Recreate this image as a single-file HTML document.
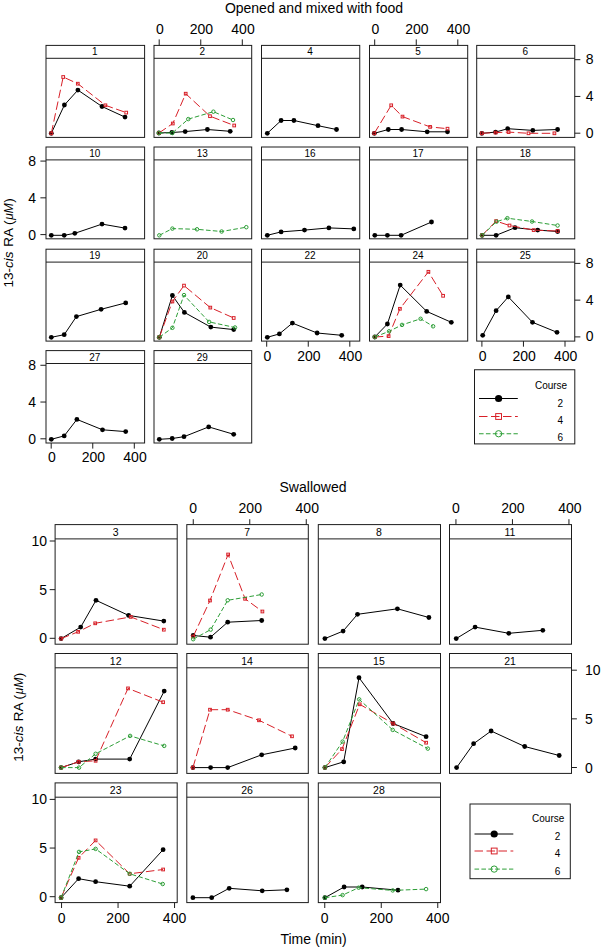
<!DOCTYPE html>
<html><head><meta charset="utf-8"><style>
html,body{margin:0;padding:0;background:#fff;}
svg{display:block;}
text{font-family:"Liberation Sans", sans-serif;fill:#000;}
</style></head><body>
<svg width="601" height="950" viewBox="0 0 601 950">
<rect width="601" height="950" fill="#fff"/>
<rect x="46" y="45.4" width="98.6" height="92" fill="none" stroke="#1c1c1c" stroke-width="1"/>
<line x1="46" y1="58.3" x2="144.6" y2="58.3" stroke="#1c1c1c" stroke-width="1" />
<text x="94.8" y="55.45" font-size="10" text-anchor="middle" >1</text>
<path d="M51.3 133.3 L64.4 105 L77.9 90.1 L102 106.5 L125 117.1" fill="none" stroke="#000" stroke-width="1" />
<circle cx="51.3" cy="133.3" r="2.4" fill="#000"/>
<circle cx="64.4" cy="105" r="2.4" fill="#000"/>
<circle cx="77.9" cy="90.1" r="2.4" fill="#000"/>
<circle cx="102" cy="106.5" r="2.4" fill="#000"/>
<circle cx="125" cy="117.1" r="2.4" fill="#000"/>
<path d="M51.3 133.3 L63.2 77 L77.8 83.7 L105.4 105.3 L126.2 112.6" fill="none" stroke="#d82028" stroke-width="1" stroke-dasharray="8.5 3.5"/>
<rect x="49.95" y="131.95" width="2.7" height="2.7" fill="none" stroke="#d82028" stroke-width="1"/>
<rect x="61.85" y="75.65" width="2.7" height="2.7" fill="none" stroke="#d82028" stroke-width="1"/>
<rect x="76.45" y="82.35" width="2.7" height="2.7" fill="none" stroke="#d82028" stroke-width="1"/>
<rect x="104.05" y="103.95" width="2.7" height="2.7" fill="none" stroke="#d82028" stroke-width="1"/>
<rect x="124.85" y="111.25" width="2.7" height="2.7" fill="none" stroke="#d82028" stroke-width="1"/>
<rect x="154" y="45.4" width="97.7" height="92" fill="none" stroke="#1c1c1c" stroke-width="1"/>
<line x1="154" y1="58.3" x2="251.7" y2="58.3" stroke="#1c1c1c" stroke-width="1" />
<text x="202.35" y="55.45" font-size="10" text-anchor="middle" >2</text>
<path d="M158.9 133 L171.9 132.5 L185.2 131.6 L207.4 129.5 L230.2 131.3" fill="none" stroke="#000" stroke-width="1" />
<circle cx="158.9" cy="133" r="2.4" fill="#000"/>
<circle cx="171.9" cy="132.5" r="2.4" fill="#000"/>
<circle cx="185.2" cy="131.6" r="2.4" fill="#000"/>
<circle cx="207.4" cy="129.5" r="2.4" fill="#000"/>
<circle cx="230.2" cy="131.3" r="2.4" fill="#000"/>
<path d="M158.9 133 L172.8 123.5 L185.7 93.7 L210 116.2 L234.2 125.5" fill="none" stroke="#d82028" stroke-width="1" stroke-dasharray="8.5 3.5"/>
<rect x="157.55" y="131.65" width="2.7" height="2.7" fill="none" stroke="#d82028" stroke-width="1"/>
<rect x="171.45" y="122.15" width="2.7" height="2.7" fill="none" stroke="#d82028" stroke-width="1"/>
<rect x="184.35" y="92.35" width="2.7" height="2.7" fill="none" stroke="#d82028" stroke-width="1"/>
<rect x="208.65" y="114.85" width="2.7" height="2.7" fill="none" stroke="#d82028" stroke-width="1"/>
<rect x="232.85" y="124.15" width="2.7" height="2.7" fill="none" stroke="#d82028" stroke-width="1"/>
<path d="M158.9 133 L172.4 133 L188.3 119.1 L213.4 111.7 L233 120" fill="none" stroke="#2c9e36" stroke-width="1" stroke-dasharray="4.6 2.3"/>
<circle cx="158.9" cy="133" r="1.75" fill="none" stroke="#2c9e36" stroke-width="1"/>
<circle cx="172.4" cy="133" r="1.75" fill="none" stroke="#2c9e36" stroke-width="1"/>
<circle cx="188.3" cy="119.1" r="1.75" fill="none" stroke="#2c9e36" stroke-width="1"/>
<circle cx="213.4" cy="111.7" r="1.75" fill="none" stroke="#2c9e36" stroke-width="1"/>
<circle cx="233" cy="120" r="1.75" fill="none" stroke="#2c9e36" stroke-width="1"/>
<rect x="261.5" y="45.4" width="98.25" height="92" fill="none" stroke="#1c1c1c" stroke-width="1"/>
<line x1="261.5" y1="58.3" x2="359.75" y2="58.3" stroke="#1c1c1c" stroke-width="1" />
<text x="310.12" y="55.45" font-size="10" text-anchor="middle" >4</text>
<path d="M267.3 133.3 L281.1 120.5 L293.9 120.5 L318 125.7 L336.5 129.5" fill="none" stroke="#000" stroke-width="1" />
<circle cx="267.3" cy="133.3" r="2.4" fill="#000"/>
<circle cx="281.1" cy="120.5" r="2.4" fill="#000"/>
<circle cx="293.9" cy="120.5" r="2.4" fill="#000"/>
<circle cx="318" cy="125.7" r="2.4" fill="#000"/>
<circle cx="336.5" cy="129.5" r="2.4" fill="#000"/>
<rect x="369.5" y="45.4" width="98.2" height="92" fill="none" stroke="#1c1c1c" stroke-width="1"/>
<line x1="369.5" y1="58.3" x2="467.7" y2="58.3" stroke="#1c1c1c" stroke-width="1" />
<text x="418.1" y="55.45" font-size="10" text-anchor="middle" >5</text>
<path d="M374.3 133.3 L388.3 129.5 L401.6 129.5 L427.2 131.8 L447.5 131.8" fill="none" stroke="#000" stroke-width="1" />
<circle cx="374.3" cy="133.3" r="2.4" fill="#000"/>
<circle cx="388.3" cy="129.5" r="2.4" fill="#000"/>
<circle cx="401.6" cy="129.5" r="2.4" fill="#000"/>
<circle cx="427.2" cy="131.8" r="2.4" fill="#000"/>
<circle cx="447.5" cy="131.8" r="2.4" fill="#000"/>
<path d="M374.3 133.3 L391.2 105.3 L402.5 116.6 L430.1 126.9 L447.5 128.7" fill="none" stroke="#d82028" stroke-width="1" stroke-dasharray="8.5 3.5"/>
<rect x="372.95" y="131.95" width="2.7" height="2.7" fill="none" stroke="#d82028" stroke-width="1"/>
<rect x="389.85" y="103.95" width="2.7" height="2.7" fill="none" stroke="#d82028" stroke-width="1"/>
<rect x="401.15" y="115.25" width="2.7" height="2.7" fill="none" stroke="#d82028" stroke-width="1"/>
<rect x="428.75" y="125.55" width="2.7" height="2.7" fill="none" stroke="#d82028" stroke-width="1"/>
<rect x="446.15" y="127.35" width="2.7" height="2.7" fill="none" stroke="#d82028" stroke-width="1"/>
<rect x="476.7" y="45.4" width="98.05" height="92" fill="none" stroke="#1c1c1c" stroke-width="1"/>
<line x1="476.7" y1="58.3" x2="574.75" y2="58.3" stroke="#1c1c1c" stroke-width="1" />
<text x="525.23" y="55.45" font-size="10" text-anchor="middle" >6</text>
<path d="M481.8 133.3 L495.6 132.1 L507.7 128.7 L532.8 130.4 L557.6 129.5" fill="none" stroke="#000" stroke-width="1" />
<circle cx="481.8" cy="133.3" r="2.4" fill="#000"/>
<circle cx="495.6" cy="132.1" r="2.4" fill="#000"/>
<circle cx="507.7" cy="128.7" r="2.4" fill="#000"/>
<circle cx="532.8" cy="130.4" r="2.4" fill="#000"/>
<circle cx="557.6" cy="129.5" r="2.4" fill="#000"/>
<path d="M481.8 133.3 L495.6 132.6 L508.6 132.1 L528.5 133.3 L554.4 133.3" fill="none" stroke="#d82028" stroke-width="1" stroke-dasharray="8.5 3.5"/>
<rect x="480.45" y="131.95" width="2.7" height="2.7" fill="none" stroke="#d82028" stroke-width="1"/>
<rect x="494.25" y="131.25" width="2.7" height="2.7" fill="none" stroke="#d82028" stroke-width="1"/>
<rect x="507.25" y="130.75" width="2.7" height="2.7" fill="none" stroke="#d82028" stroke-width="1"/>
<rect x="527.15" y="131.95" width="2.7" height="2.7" fill="none" stroke="#d82028" stroke-width="1"/>
<rect x="553.05" y="131.95" width="2.7" height="2.7" fill="none" stroke="#d82028" stroke-width="1"/>
<rect x="46" y="147" width="98.6" height="91.8" fill="none" stroke="#1c1c1c" stroke-width="1"/>
<line x1="46" y1="159.9" x2="144.6" y2="159.9" stroke="#1c1c1c" stroke-width="1" />
<text x="94.8" y="157.05" font-size="10" text-anchor="middle" >10</text>
<path d="M51.3 235.3 L64.2 235.3 L74.8 233.3 L102 224.1 L125 228.1" fill="none" stroke="#000" stroke-width="1" />
<circle cx="51.3" cy="235.3" r="2.4" fill="#000"/>
<circle cx="64.2" cy="235.3" r="2.4" fill="#000"/>
<circle cx="74.8" cy="233.3" r="2.4" fill="#000"/>
<circle cx="102" cy="224.1" r="2.4" fill="#000"/>
<circle cx="125" cy="228.1" r="2.4" fill="#000"/>
<rect x="154" y="147" width="97.7" height="91.8" fill="none" stroke="#1c1c1c" stroke-width="1"/>
<line x1="154" y1="159.9" x2="251.7" y2="159.9" stroke="#1c1c1c" stroke-width="1" />
<text x="202.35" y="157.05" font-size="10" text-anchor="middle" >13</text>
<path d="M159.3 235.3 L172.4 228.6 L197 229.3 L221.6 231.5 L246.3 227.2" fill="none" stroke="#2c9e36" stroke-width="1" stroke-dasharray="4.6 2.3"/>
<circle cx="159.3" cy="235.3" r="1.75" fill="none" stroke="#2c9e36" stroke-width="1"/>
<circle cx="172.4" cy="228.6" r="1.75" fill="none" stroke="#2c9e36" stroke-width="1"/>
<circle cx="197" cy="229.3" r="1.75" fill="none" stroke="#2c9e36" stroke-width="1"/>
<circle cx="221.6" cy="231.5" r="1.75" fill="none" stroke="#2c9e36" stroke-width="1"/>
<circle cx="246.3" cy="227.2" r="1.75" fill="none" stroke="#2c9e36" stroke-width="1"/>
<rect x="261.5" y="147" width="98.25" height="91.8" fill="none" stroke="#1c1c1c" stroke-width="1"/>
<line x1="261.5" y1="159.9" x2="359.75" y2="159.9" stroke="#1c1c1c" stroke-width="1" />
<text x="310.12" y="157.05" font-size="10" text-anchor="middle" >16</text>
<path d="M267.3 235.3 L281.1 231.9 L304.5 230.1 L328.9 227.9 L353.8 228.9" fill="none" stroke="#000" stroke-width="1" />
<circle cx="267.3" cy="235.3" r="2.4" fill="#000"/>
<circle cx="281.1" cy="231.9" r="2.4" fill="#000"/>
<circle cx="304.5" cy="230.1" r="2.4" fill="#000"/>
<circle cx="328.9" cy="227.9" r="2.4" fill="#000"/>
<circle cx="353.8" cy="228.9" r="2.4" fill="#000"/>
<rect x="369.5" y="147" width="98.2" height="91.8" fill="none" stroke="#1c1c1c" stroke-width="1"/>
<line x1="369.5" y1="159.9" x2="467.7" y2="159.9" stroke="#1c1c1c" stroke-width="1" />
<text x="418.1" y="157.05" font-size="10" text-anchor="middle" >17</text>
<path d="M374.8 235.3 L387.4 235.3 L401.1 235.3 L431.5 222" fill="none" stroke="#000" stroke-width="1" />
<circle cx="374.8" cy="235.3" r="2.4" fill="#000"/>
<circle cx="387.4" cy="235.3" r="2.4" fill="#000"/>
<circle cx="401.1" cy="235.3" r="2.4" fill="#000"/>
<circle cx="431.5" cy="222" r="2.4" fill="#000"/>
<rect x="476.7" y="147" width="98.05" height="91.8" fill="none" stroke="#1c1c1c" stroke-width="1"/>
<line x1="476.7" y1="159.9" x2="574.75" y2="159.9" stroke="#1c1c1c" stroke-width="1" />
<text x="525.23" y="157.05" font-size="10" text-anchor="middle" >18</text>
<path d="M482.1 235.3 L496.1 235.3 L515 227.7 L537.7 230.1 L557.6 231.5" fill="none" stroke="#000" stroke-width="1" />
<circle cx="482.1" cy="235.3" r="2.4" fill="#000"/>
<circle cx="496.1" cy="235.3" r="2.4" fill="#000"/>
<circle cx="515" cy="227.7" r="2.4" fill="#000"/>
<circle cx="537.7" cy="230.1" r="2.4" fill="#000"/>
<circle cx="557.6" cy="231.5" r="2.4" fill="#000"/>
<path d="M482.1 235.3 L496.1 221.1 L509.5 225.5 L533.7 230.1 L557.6 231" fill="none" stroke="#d82028" stroke-width="1" stroke-dasharray="8.5 3.5"/>
<rect x="480.75" y="233.95" width="2.7" height="2.7" fill="none" stroke="#d82028" stroke-width="1"/>
<rect x="494.75" y="219.75" width="2.7" height="2.7" fill="none" stroke="#d82028" stroke-width="1"/>
<rect x="508.15" y="224.15" width="2.7" height="2.7" fill="none" stroke="#d82028" stroke-width="1"/>
<rect x="532.35" y="228.75" width="2.7" height="2.7" fill="none" stroke="#d82028" stroke-width="1"/>
<rect x="556.25" y="229.65" width="2.7" height="2.7" fill="none" stroke="#d82028" stroke-width="1"/>
<path d="M482.1 235.3 L496.5 221.7 L507.4 218.2 L532 221.5 L557.6 225.5" fill="none" stroke="#2c9e36" stroke-width="1" stroke-dasharray="4.6 2.3"/>
<circle cx="482.1" cy="235.3" r="1.75" fill="none" stroke="#2c9e36" stroke-width="1"/>
<circle cx="496.5" cy="221.7" r="1.75" fill="none" stroke="#2c9e36" stroke-width="1"/>
<circle cx="507.4" cy="218.2" r="1.75" fill="none" stroke="#2c9e36" stroke-width="1"/>
<circle cx="532" cy="221.5" r="1.75" fill="none" stroke="#2c9e36" stroke-width="1"/>
<circle cx="557.6" cy="225.5" r="1.75" fill="none" stroke="#2c9e36" stroke-width="1"/>
<rect x="46" y="249.2" width="98.6" height="91.9" fill="none" stroke="#1c1c1c" stroke-width="1"/>
<line x1="46" y1="262.1" x2="144.6" y2="262.1" stroke="#1c1c1c" stroke-width="1" />
<text x="94.8" y="259.25" font-size="10" text-anchor="middle" >19</text>
<path d="M51.3 337.3 L64.2 334.7 L76.4 316.6 L101.1 309.3 L125.7 302.9" fill="none" stroke="#000" stroke-width="1" />
<circle cx="51.3" cy="337.3" r="2.4" fill="#000"/>
<circle cx="64.2" cy="334.7" r="2.4" fill="#000"/>
<circle cx="76.4" cy="316.6" r="2.4" fill="#000"/>
<circle cx="101.1" cy="309.3" r="2.4" fill="#000"/>
<circle cx="125.7" cy="302.9" r="2.4" fill="#000"/>
<rect x="154" y="249.2" width="97.7" height="91.9" fill="none" stroke="#1c1c1c" stroke-width="1"/>
<line x1="154" y1="262.1" x2="251.7" y2="262.1" stroke="#1c1c1c" stroke-width="1" />
<text x="202.35" y="259.25" font-size="10" text-anchor="middle" >20</text>
<path d="M159.3 337.3 L172.4 295.5 L184.4 312.4 L210.8 327.1 L233.7 329.6" fill="none" stroke="#000" stroke-width="1" />
<circle cx="159.3" cy="337.3" r="2.4" fill="#000"/>
<circle cx="172.4" cy="295.5" r="2.4" fill="#000"/>
<circle cx="184.4" cy="312.4" r="2.4" fill="#000"/>
<circle cx="210.8" cy="327.1" r="2.4" fill="#000"/>
<circle cx="233.7" cy="329.6" r="2.4" fill="#000"/>
<path d="M159.3 337.3 L172.4 301.5 L184 285.6 L210.3 307.6 L233.7 318" fill="none" stroke="#d82028" stroke-width="1" stroke-dasharray="8.5 3.5"/>
<rect x="157.95" y="335.95" width="2.7" height="2.7" fill="none" stroke="#d82028" stroke-width="1"/>
<rect x="171.05" y="300.15" width="2.7" height="2.7" fill="none" stroke="#d82028" stroke-width="1"/>
<rect x="182.65" y="284.25" width="2.7" height="2.7" fill="none" stroke="#d82028" stroke-width="1"/>
<rect x="208.95" y="306.25" width="2.7" height="2.7" fill="none" stroke="#d82028" stroke-width="1"/>
<rect x="232.35" y="316.65" width="2.7" height="2.7" fill="none" stroke="#d82028" stroke-width="1"/>
<path d="M159.3 337.3 L172.4 327.8 L184 295.1 L209.1 321.9 L235 327.5" fill="none" stroke="#2c9e36" stroke-width="1" stroke-dasharray="4.6 2.3"/>
<circle cx="159.3" cy="337.3" r="1.75" fill="none" stroke="#2c9e36" stroke-width="1"/>
<circle cx="172.4" cy="327.8" r="1.75" fill="none" stroke="#2c9e36" stroke-width="1"/>
<circle cx="184" cy="295.1" r="1.75" fill="none" stroke="#2c9e36" stroke-width="1"/>
<circle cx="209.1" cy="321.9" r="1.75" fill="none" stroke="#2c9e36" stroke-width="1"/>
<circle cx="235" cy="327.5" r="1.75" fill="none" stroke="#2c9e36" stroke-width="1"/>
<rect x="261.5" y="249.2" width="98.25" height="91.9" fill="none" stroke="#1c1c1c" stroke-width="1"/>
<line x1="261.5" y1="262.1" x2="359.75" y2="262.1" stroke="#1c1c1c" stroke-width="1" />
<text x="310.12" y="259.25" font-size="10" text-anchor="middle" >22</text>
<path d="M267.3 337.3 L279.4 333.9 L292.4 323.1 L317.1 333 L341.7 335.3" fill="none" stroke="#000" stroke-width="1" />
<circle cx="267.3" cy="337.3" r="2.4" fill="#000"/>
<circle cx="279.4" cy="333.9" r="2.4" fill="#000"/>
<circle cx="292.4" cy="323.1" r="2.4" fill="#000"/>
<circle cx="317.1" cy="333" r="2.4" fill="#000"/>
<circle cx="341.7" cy="335.3" r="2.4" fill="#000"/>
<rect x="369.5" y="249.2" width="98.2" height="91.9" fill="none" stroke="#1c1c1c" stroke-width="1"/>
<line x1="369.5" y1="262.1" x2="467.7" y2="262.1" stroke="#1c1c1c" stroke-width="1" />
<text x="418.1" y="259.25" font-size="10" text-anchor="middle" >24</text>
<path d="M374.8 337 L387.4 324 L400.2 285.1 L426.7 311.4 L451.3 322.3" fill="none" stroke="#000" stroke-width="1" />
<circle cx="374.8" cy="337" r="2.4" fill="#000"/>
<circle cx="387.4" cy="324" r="2.4" fill="#000"/>
<circle cx="400.2" cy="285.1" r="2.4" fill="#000"/>
<circle cx="426.7" cy="311.4" r="2.4" fill="#000"/>
<circle cx="451.3" cy="322.3" r="2.4" fill="#000"/>
<path d="M374.8 337 L388.6 336.1 L399.9 308.8 L428.4 271.8 L443.1 295.8" fill="none" stroke="#d82028" stroke-width="1" stroke-dasharray="8.5 3.5"/>
<rect x="373.45" y="335.65" width="2.7" height="2.7" fill="none" stroke="#d82028" stroke-width="1"/>
<rect x="387.25" y="334.75" width="2.7" height="2.7" fill="none" stroke="#d82028" stroke-width="1"/>
<rect x="398.55" y="307.45" width="2.7" height="2.7" fill="none" stroke="#d82028" stroke-width="1"/>
<rect x="427.05" y="270.45" width="2.7" height="2.7" fill="none" stroke="#d82028" stroke-width="1"/>
<rect x="441.75" y="294.45" width="2.7" height="2.7" fill="none" stroke="#d82028" stroke-width="1"/>
<path d="M374.8 337 L389.1 331.3 L402 324.9 L420.6 318.8 L433.1 326.3" fill="none" stroke="#2c9e36" stroke-width="1" stroke-dasharray="4.6 2.3"/>
<circle cx="374.8" cy="337" r="1.75" fill="none" stroke="#2c9e36" stroke-width="1"/>
<circle cx="389.1" cy="331.3" r="1.75" fill="none" stroke="#2c9e36" stroke-width="1"/>
<circle cx="402" cy="324.9" r="1.75" fill="none" stroke="#2c9e36" stroke-width="1"/>
<circle cx="420.6" cy="318.8" r="1.75" fill="none" stroke="#2c9e36" stroke-width="1"/>
<circle cx="433.1" cy="326.3" r="1.75" fill="none" stroke="#2c9e36" stroke-width="1"/>
<rect x="476.7" y="249.2" width="98.05" height="91.9" fill="none" stroke="#1c1c1c" stroke-width="1"/>
<line x1="476.7" y1="262.1" x2="574.75" y2="262.1" stroke="#1c1c1c" stroke-width="1" />
<text x="525.23" y="259.25" font-size="10" text-anchor="middle" >25</text>
<path d="M482.7 335.3 L496.1 310.7 L508.3 296.9 L532.5 322.3 L557 332.3" fill="none" stroke="#000" stroke-width="1" />
<circle cx="482.7" cy="335.3" r="2.4" fill="#000"/>
<circle cx="496.1" cy="310.7" r="2.4" fill="#000"/>
<circle cx="508.3" cy="296.9" r="2.4" fill="#000"/>
<circle cx="532.5" cy="322.3" r="2.4" fill="#000"/>
<circle cx="557" cy="332.3" r="2.4" fill="#000"/>
<rect x="46" y="350.6" width="98.6" height="92.4" fill="none" stroke="#1c1c1c" stroke-width="1"/>
<line x1="46" y1="363.5" x2="144.6" y2="363.5" stroke="#1c1c1c" stroke-width="1" />
<text x="94.8" y="360.65" font-size="10" text-anchor="middle" >27</text>
<path d="M51.3 439.3 L64.2 435.9 L76.9 419.4 L102.5 429.8 L125.7 431.6" fill="none" stroke="#000" stroke-width="1" />
<circle cx="51.3" cy="439.3" r="2.4" fill="#000"/>
<circle cx="64.2" cy="435.9" r="2.4" fill="#000"/>
<circle cx="76.9" cy="419.4" r="2.4" fill="#000"/>
<circle cx="102.5" cy="429.8" r="2.4" fill="#000"/>
<circle cx="125.7" cy="431.6" r="2.4" fill="#000"/>
<rect x="154" y="350.6" width="97.7" height="92.4" fill="none" stroke="#1c1c1c" stroke-width="1"/>
<line x1="154" y1="363.5" x2="251.7" y2="363.5" stroke="#1c1c1c" stroke-width="1" />
<text x="202.35" y="360.65" font-size="10" text-anchor="middle" >29</text>
<path d="M159.3 439.3 L172.2 438.5 L184 436.7 L208.7 426.9 L233.7 434.3" fill="none" stroke="#000" stroke-width="1" />
<circle cx="159.3" cy="439.3" r="2.4" fill="#000"/>
<circle cx="172.2" cy="438.5" r="2.4" fill="#000"/>
<circle cx="184" cy="436.7" r="2.4" fill="#000"/>
<circle cx="208.7" cy="426.9" r="2.4" fill="#000"/>
<circle cx="233.7" cy="434.3" r="2.4" fill="#000"/>
<line x1="159.2" y1="39.4" x2="159.2" y2="45.4" stroke="#1c1c1c" stroke-width="1" />
<text x="159.9" y="33.6" font-size="14" text-anchor="middle" >0</text>
<line x1="200.75" y1="39.4" x2="200.75" y2="45.4" stroke="#1c1c1c" stroke-width="1" />
<text x="201.45" y="33.6" font-size="14" text-anchor="middle" >200</text>
<line x1="242.3" y1="39.4" x2="242.3" y2="45.4" stroke="#1c1c1c" stroke-width="1" />
<text x="243" y="33.6" font-size="14" text-anchor="middle" >400</text>
<line x1="374.7" y1="39.4" x2="374.7" y2="45.4" stroke="#1c1c1c" stroke-width="1" />
<text x="375.4" y="33.6" font-size="14" text-anchor="middle" >0</text>
<line x1="416.25" y1="39.4" x2="416.25" y2="45.4" stroke="#1c1c1c" stroke-width="1" />
<text x="416.95" y="33.6" font-size="14" text-anchor="middle" >200</text>
<line x1="457.8" y1="39.4" x2="457.8" y2="45.4" stroke="#1c1c1c" stroke-width="1" />
<text x="458.5" y="33.6" font-size="14" text-anchor="middle" >400</text>
<line x1="51.2" y1="443" x2="51.2" y2="448.6" stroke="#1c1c1c" stroke-width="1" />
<text x="51.9" y="462" font-size="14" text-anchor="middle" >0</text>
<line x1="92.75" y1="443" x2="92.75" y2="448.6" stroke="#1c1c1c" stroke-width="1" />
<text x="93.45" y="462" font-size="14" text-anchor="middle" >200</text>
<line x1="134.3" y1="443" x2="134.3" y2="448.6" stroke="#1c1c1c" stroke-width="1" />
<text x="135" y="462" font-size="14" text-anchor="middle" >400</text>
<line x1="266.7" y1="341.1" x2="266.7" y2="346.7" stroke="#1c1c1c" stroke-width="1" />
<text x="267.4" y="361.4" font-size="14" text-anchor="middle" >0</text>
<line x1="308.25" y1="341.1" x2="308.25" y2="346.7" stroke="#1c1c1c" stroke-width="1" />
<text x="308.95" y="361.4" font-size="14" text-anchor="middle" >200</text>
<line x1="349.8" y1="341.1" x2="349.8" y2="346.7" stroke="#1c1c1c" stroke-width="1" />
<text x="350.5" y="361.4" font-size="14" text-anchor="middle" >400</text>
<line x1="481.9" y1="341.1" x2="481.9" y2="346.7" stroke="#1c1c1c" stroke-width="1" />
<text x="482.6" y="361.4" font-size="14" text-anchor="middle" >0</text>
<line x1="523.45" y1="341.1" x2="523.45" y2="346.7" stroke="#1c1c1c" stroke-width="1" />
<text x="524.15" y="361.4" font-size="14" text-anchor="middle" >200</text>
<line x1="565" y1="341.1" x2="565" y2="346.7" stroke="#1c1c1c" stroke-width="1" />
<text x="565.7" y="361.4" font-size="14" text-anchor="middle" >400</text>
<line x1="574.75" y1="133.2" x2="580.35" y2="133.2" stroke="#1c1c1c" stroke-width="1" />
<text x="585.75" y="137.6" font-size="14" text-anchor="start" >0</text>
<line x1="574.75" y1="96.44" x2="580.35" y2="96.44" stroke="#1c1c1c" stroke-width="1" />
<text x="585.75" y="100.84" font-size="14" text-anchor="start" >4</text>
<line x1="574.75" y1="59.68" x2="580.35" y2="59.68" stroke="#1c1c1c" stroke-width="1" />
<text x="585.75" y="64.08" font-size="14" text-anchor="start" >8</text>
<line x1="574.75" y1="336.9" x2="580.35" y2="336.9" stroke="#1c1c1c" stroke-width="1" />
<text x="585.75" y="341.3" font-size="14" text-anchor="start" >0</text>
<line x1="574.75" y1="300.14" x2="580.35" y2="300.14" stroke="#1c1c1c" stroke-width="1" />
<text x="585.75" y="304.54" font-size="14" text-anchor="start" >4</text>
<line x1="574.75" y1="263.38" x2="580.35" y2="263.38" stroke="#1c1c1c" stroke-width="1" />
<text x="585.75" y="267.78" font-size="14" text-anchor="start" >8</text>
<line x1="40.4" y1="234.6" x2="46" y2="234.6" stroke="#1c1c1c" stroke-width="1" />
<text x="36" y="239.6" font-size="14" text-anchor="end" >0</text>
<line x1="40.4" y1="197.84" x2="46" y2="197.84" stroke="#1c1c1c" stroke-width="1" />
<text x="36" y="202.84" font-size="14" text-anchor="end" >4</text>
<line x1="40.4" y1="161.08" x2="46" y2="161.08" stroke="#1c1c1c" stroke-width="1" />
<text x="36" y="166.08" font-size="14" text-anchor="end" >8</text>
<line x1="40.4" y1="438.8" x2="46" y2="438.8" stroke="#1c1c1c" stroke-width="1" />
<text x="36" y="443.8" font-size="14" text-anchor="end" >0</text>
<line x1="40.4" y1="402.04" x2="46" y2="402.04" stroke="#1c1c1c" stroke-width="1" />
<text x="36" y="407.04" font-size="14" text-anchor="end" >4</text>
<line x1="40.4" y1="365.28" x2="46" y2="365.28" stroke="#1c1c1c" stroke-width="1" />
<text x="36" y="370.28" font-size="14" text-anchor="end" >8</text>
<text x="314" y="13" font-size="14" text-anchor="middle" >Opened and mixed with food</text>
<text transform="translate(12.6,242.85) rotate(-90)" font-size="13.5" text-anchor="middle">13-<tspan font-style="italic">cis</tspan><tspan dx="0.8"> RA (</tspan><tspan font-style="italic" font-size="12" dx="0.8">μM</tspan><tspan dx="0.4">)</tspan></text>
<rect x="474.5" y="369.75" width="100.3" height="74.15" fill="none" stroke="#1c1c1c" stroke-width="1"/>
<text x="567.2" y="388.9" font-size="10" text-anchor="end" >Course</text>
<line x1="479" y1="398.5" x2="517.8" y2="398.5" stroke="#000" stroke-width="1" />
<circle cx="498.6" cy="398.5" r="3.6" fill="#000"/>
<text x="557.6" y="407.1" font-size="10" text-anchor="start" >2</text>
<line x1="479" y1="416.5" x2="517.8" y2="416.5" stroke="#d82028" stroke-width="1" stroke-dasharray="8.5 3.5"/>
<rect x="495.7" y="413.6" width="5.8" height="5.8" fill="none" stroke="#d82028" stroke-width="1"/>
<text x="557.6" y="424.3" font-size="10" text-anchor="start" >4</text>
<line x1="479" y1="433.75" x2="517.8" y2="433.75" stroke="#2c9e36" stroke-width="1" stroke-dasharray="4.6 2.3"/>
<circle cx="498.6" cy="433.75" r="3.15" fill="none" stroke="#2c9e36" stroke-width="1"/>
<text x="557.6" y="441.4" font-size="10" text-anchor="start" >6</text>
<rect x="55.1" y="524.6" width="122.1" height="119.6" fill="none" stroke="#1c1c1c" stroke-width="1"/>
<line x1="55.1" y1="538.9" x2="177.2" y2="538.9" stroke="#1c1c1c" stroke-width="1" />
<text x="115.65" y="536.05" font-size="10.5" text-anchor="middle" >3</text>
<path d="M61.1 638.6 L80.7 627.1 L96 600.3 L128.6 615.4 L163.8 621.1" fill="none" stroke="#000" stroke-width="1" />
<circle cx="61.1" cy="638.6" r="2.4" fill="#000"/>
<circle cx="80.7" cy="627.1" r="2.4" fill="#000"/>
<circle cx="96" cy="600.3" r="2.4" fill="#000"/>
<circle cx="128.6" cy="615.4" r="2.4" fill="#000"/>
<circle cx="163.8" cy="621.1" r="2.4" fill="#000"/>
<path d="M61.1 638.6 L78.1 631.8 L95.2 623.3 L130.7 616.9 L163.8 629.7" fill="none" stroke="#d82028" stroke-width="1" stroke-dasharray="8.5 3.5"/>
<rect x="59.75" y="637.25" width="2.7" height="2.7" fill="none" stroke="#d82028" stroke-width="1"/>
<rect x="76.75" y="630.45" width="2.7" height="2.7" fill="none" stroke="#d82028" stroke-width="1"/>
<rect x="93.85" y="621.95" width="2.7" height="2.7" fill="none" stroke="#d82028" stroke-width="1"/>
<rect x="129.35" y="615.55" width="2.7" height="2.7" fill="none" stroke="#d82028" stroke-width="1"/>
<rect x="162.45" y="628.35" width="2.7" height="2.7" fill="none" stroke="#d82028" stroke-width="1"/>
<rect x="186.8" y="524.6" width="121.5" height="119.6" fill="none" stroke="#1c1c1c" stroke-width="1"/>
<line x1="186.8" y1="538.9" x2="308.3" y2="538.9" stroke="#1c1c1c" stroke-width="1" />
<text x="247.05" y="536.05" font-size="10.5" text-anchor="middle" >7</text>
<path d="M193.2 635.5 L210.5 637.2 L227.7 622.2 L261.7 620.5" fill="none" stroke="#000" stroke-width="1" />
<circle cx="193.2" cy="635.5" r="2.4" fill="#000"/>
<circle cx="210.5" cy="637.2" r="2.4" fill="#000"/>
<circle cx="227.7" cy="622.2" r="2.4" fill="#000"/>
<circle cx="261.7" cy="620.5" r="2.4" fill="#000"/>
<path d="M193.2 636.5 L210 600.5 L228.1 554.5 L245.1 598.8 L262.4 611.5" fill="none" stroke="#d82028" stroke-width="1" stroke-dasharray="8.5 3.5"/>
<rect x="191.85" y="635.15" width="2.7" height="2.7" fill="none" stroke="#d82028" stroke-width="1"/>
<rect x="208.65" y="599.15" width="2.7" height="2.7" fill="none" stroke="#d82028" stroke-width="1"/>
<rect x="226.75" y="553.15" width="2.7" height="2.7" fill="none" stroke="#d82028" stroke-width="1"/>
<rect x="243.75" y="597.45" width="2.7" height="2.7" fill="none" stroke="#d82028" stroke-width="1"/>
<rect x="261.05" y="610.15" width="2.7" height="2.7" fill="none" stroke="#d82028" stroke-width="1"/>
<path d="M193.2 639.2 L210.7 629.6 L227.7 600.3 L261.7 594.5" fill="none" stroke="#2c9e36" stroke-width="1" stroke-dasharray="4.6 2.3"/>
<circle cx="193.2" cy="639.2" r="1.75" fill="none" stroke="#2c9e36" stroke-width="1"/>
<circle cx="210.7" cy="629.6" r="1.75" fill="none" stroke="#2c9e36" stroke-width="1"/>
<circle cx="227.7" cy="600.3" r="1.75" fill="none" stroke="#2c9e36" stroke-width="1"/>
<circle cx="261.7" cy="594.5" r="1.75" fill="none" stroke="#2c9e36" stroke-width="1"/>
<rect x="318.3" y="524.6" width="122.2" height="119.6" fill="none" stroke="#1c1c1c" stroke-width="1"/>
<line x1="318.3" y1="538.9" x2="440.5" y2="538.9" stroke="#1c1c1c" stroke-width="1" />
<text x="378.9" y="536.05" font-size="10.5" text-anchor="middle" >8</text>
<path d="M324.9 638.6 L343.1 631.1 L357.5 614.3 L397.4 608.8 L428.9 617.5" fill="none" stroke="#000" stroke-width="1" />
<circle cx="324.9" cy="638.6" r="2.4" fill="#000"/>
<circle cx="343.1" cy="631.1" r="2.4" fill="#000"/>
<circle cx="357.5" cy="614.3" r="2.4" fill="#000"/>
<circle cx="397.4" cy="608.8" r="2.4" fill="#000"/>
<circle cx="428.9" cy="617.5" r="2.4" fill="#000"/>
<rect x="449.5" y="524.6" width="122" height="119.6" fill="none" stroke="#1c1c1c" stroke-width="1"/>
<line x1="449.5" y1="538.9" x2="571.5" y2="538.9" stroke="#1c1c1c" stroke-width="1" />
<text x="510" y="536.05" font-size="10.5" text-anchor="middle" >11</text>
<path d="M456.2 638.6 L475.1 627.1 L508.8 633.3 L542.8 630.3" fill="none" stroke="#000" stroke-width="1" />
<circle cx="456.2" cy="638.6" r="2.4" fill="#000"/>
<circle cx="475.1" cy="627.1" r="2.4" fill="#000"/>
<circle cx="508.8" cy="633.3" r="2.4" fill="#000"/>
<circle cx="542.8" cy="630.3" r="2.4" fill="#000"/>
<rect x="55.1" y="653.5" width="122.1" height="119.9" fill="none" stroke="#1c1c1c" stroke-width="1"/>
<line x1="55.1" y1="667.8" x2="177.2" y2="667.8" stroke="#1c1c1c" stroke-width="1" />
<text x="115.65" y="664.95" font-size="10.5" text-anchor="middle" >12</text>
<path d="M61.1 767.6 L78.6 761.8 L95.6 759.1 L129.7 759.1 L164.2 691.1" fill="none" stroke="#000" stroke-width="1" />
<circle cx="61.1" cy="767.6" r="2.4" fill="#000"/>
<circle cx="78.6" cy="761.8" r="2.4" fill="#000"/>
<circle cx="95.6" cy="759.1" r="2.4" fill="#000"/>
<circle cx="129.7" cy="759.1" r="2.4" fill="#000"/>
<circle cx="164.2" cy="691.1" r="2.4" fill="#000"/>
<path d="M61.1 767.6 L78.6 761.8 L95.6 760.8 L128 688.4 L163.1 702.2" fill="none" stroke="#d82028" stroke-width="1" stroke-dasharray="8.5 3.5"/>
<rect x="59.75" y="766.25" width="2.7" height="2.7" fill="none" stroke="#d82028" stroke-width="1"/>
<rect x="77.25" y="760.45" width="2.7" height="2.7" fill="none" stroke="#d82028" stroke-width="1"/>
<rect x="94.25" y="759.45" width="2.7" height="2.7" fill="none" stroke="#d82028" stroke-width="1"/>
<rect x="126.65" y="687.05" width="2.7" height="2.7" fill="none" stroke="#d82028" stroke-width="1"/>
<rect x="161.75" y="700.85" width="2.7" height="2.7" fill="none" stroke="#d82028" stroke-width="1"/>
<path d="M61.1 767.6 L79 767.6 L95.6 753.8 L130.1 735.9 L164.2 745.9" fill="none" stroke="#2c9e36" stroke-width="1" stroke-dasharray="4.6 2.3"/>
<circle cx="61.1" cy="767.6" r="1.75" fill="none" stroke="#2c9e36" stroke-width="1"/>
<circle cx="79" cy="767.6" r="1.75" fill="none" stroke="#2c9e36" stroke-width="1"/>
<circle cx="95.6" cy="753.8" r="1.75" fill="none" stroke="#2c9e36" stroke-width="1"/>
<circle cx="130.1" cy="735.9" r="1.75" fill="none" stroke="#2c9e36" stroke-width="1"/>
<circle cx="164.2" cy="745.9" r="1.75" fill="none" stroke="#2c9e36" stroke-width="1"/>
<rect x="186.8" y="653.5" width="121.5" height="119.9" fill="none" stroke="#1c1c1c" stroke-width="1"/>
<line x1="186.8" y1="667.8" x2="308.3" y2="667.8" stroke="#1c1c1c" stroke-width="1" />
<text x="247.05" y="664.95" font-size="10.5" text-anchor="middle" >14</text>
<path d="M192.9 767.6 L210.6 767.6 L227.7 767.6 L261.7 754.8 L295.2 748" fill="none" stroke="#000" stroke-width="1" />
<circle cx="192.9" cy="767.6" r="2.4" fill="#000"/>
<circle cx="210.6" cy="767.6" r="2.4" fill="#000"/>
<circle cx="227.7" cy="767.6" r="2.4" fill="#000"/>
<circle cx="261.7" cy="754.8" r="2.4" fill="#000"/>
<circle cx="295.2" cy="748" r="2.4" fill="#000"/>
<path d="M192.9 767.6 L210 709.7 L227.7 709.7 L259 720.3 L292 736.3" fill="none" stroke="#d82028" stroke-width="1" stroke-dasharray="8.5 3.5"/>
<rect x="191.55" y="766.25" width="2.7" height="2.7" fill="none" stroke="#d82028" stroke-width="1"/>
<rect x="208.65" y="708.35" width="2.7" height="2.7" fill="none" stroke="#d82028" stroke-width="1"/>
<rect x="226.35" y="708.35" width="2.7" height="2.7" fill="none" stroke="#d82028" stroke-width="1"/>
<rect x="257.65" y="718.95" width="2.7" height="2.7" fill="none" stroke="#d82028" stroke-width="1"/>
<rect x="290.65" y="734.95" width="2.7" height="2.7" fill="none" stroke="#d82028" stroke-width="1"/>
<rect x="318.3" y="653.5" width="122.2" height="119.9" fill="none" stroke="#1c1c1c" stroke-width="1"/>
<line x1="318.3" y1="667.8" x2="440.5" y2="667.8" stroke="#1c1c1c" stroke-width="1" />
<text x="378.9" y="664.95" font-size="10.5" text-anchor="middle" >15</text>
<path d="M324.9 767.6 L343.7 761.8 L359 677.7 L393.1 723.5 L426.1 736.7" fill="none" stroke="#000" stroke-width="1" />
<circle cx="324.9" cy="767.6" r="2.4" fill="#000"/>
<circle cx="343.7" cy="761.8" r="2.4" fill="#000"/>
<circle cx="359" cy="677.7" r="2.4" fill="#000"/>
<circle cx="393.1" cy="723.5" r="2.4" fill="#000"/>
<circle cx="426.1" cy="736.7" r="2.4" fill="#000"/>
<path d="M324.9 767.6 L342 749.1 L359.7 704.3 L393.1 723.5 L426.1 742.7" fill="none" stroke="#d82028" stroke-width="1" stroke-dasharray="8.5 3.5"/>
<rect x="323.55" y="766.25" width="2.7" height="2.7" fill="none" stroke="#d82028" stroke-width="1"/>
<rect x="340.65" y="747.75" width="2.7" height="2.7" fill="none" stroke="#d82028" stroke-width="1"/>
<rect x="358.35" y="702.95" width="2.7" height="2.7" fill="none" stroke="#d82028" stroke-width="1"/>
<rect x="391.75" y="722.15" width="2.7" height="2.7" fill="none" stroke="#d82028" stroke-width="1"/>
<rect x="424.75" y="741.35" width="2.7" height="2.7" fill="none" stroke="#d82028" stroke-width="1"/>
<path d="M324.9 767.6 L342.6 741.6 L359.2 699.4 L392.7 729.9 L427.8 748.6" fill="none" stroke="#2c9e36" stroke-width="1" stroke-dasharray="4.6 2.3"/>
<circle cx="324.9" cy="767.6" r="1.75" fill="none" stroke="#2c9e36" stroke-width="1"/>
<circle cx="342.6" cy="741.6" r="1.75" fill="none" stroke="#2c9e36" stroke-width="1"/>
<circle cx="359.2" cy="699.4" r="1.75" fill="none" stroke="#2c9e36" stroke-width="1"/>
<circle cx="392.7" cy="729.9" r="1.75" fill="none" stroke="#2c9e36" stroke-width="1"/>
<circle cx="427.8" cy="748.6" r="1.75" fill="none" stroke="#2c9e36" stroke-width="1"/>
<rect x="449.5" y="653.5" width="122" height="119.9" fill="none" stroke="#1c1c1c" stroke-width="1"/>
<line x1="449.5" y1="667.8" x2="571.5" y2="667.8" stroke="#1c1c1c" stroke-width="1" />
<text x="510" y="664.95" font-size="10.5" text-anchor="middle" >21</text>
<path d="M456.6 767.6 L473.6 743.7 L491.1 731 L524.7 746.5 L559.2 755.5" fill="none" stroke="#000" stroke-width="1" />
<circle cx="456.6" cy="767.6" r="2.4" fill="#000"/>
<circle cx="473.6" cy="743.7" r="2.4" fill="#000"/>
<circle cx="491.1" cy="731" r="2.4" fill="#000"/>
<circle cx="524.7" cy="746.5" r="2.4" fill="#000"/>
<circle cx="559.2" cy="755.5" r="2.4" fill="#000"/>
<rect x="55.1" y="782.9" width="122.1" height="119.7" fill="none" stroke="#1c1c1c" stroke-width="1"/>
<line x1="55.1" y1="797.2" x2="177.2" y2="797.2" stroke="#1c1c1c" stroke-width="1" />
<text x="115.65" y="794.35" font-size="10.5" text-anchor="middle" >23</text>
<path d="M61.1 897.7 L78.6 878.7 L95.6 881.7 L129.7 886.2 L163.1 849.7" fill="none" stroke="#000" stroke-width="1" />
<circle cx="61.1" cy="897.7" r="2.4" fill="#000"/>
<circle cx="78.6" cy="878.7" r="2.4" fill="#000"/>
<circle cx="95.6" cy="881.7" r="2.4" fill="#000"/>
<circle cx="129.7" cy="886.2" r="2.4" fill="#000"/>
<circle cx="163.1" cy="849.7" r="2.4" fill="#000"/>
<path d="M61.1 897.7 L78.6 857.8 L95.6 840.4 L129.7 873.8 L163.1 869.5" fill="none" stroke="#d82028" stroke-width="1" stroke-dasharray="8.5 3.5"/>
<rect x="59.75" y="896.35" width="2.7" height="2.7" fill="none" stroke="#d82028" stroke-width="1"/>
<rect x="77.25" y="856.45" width="2.7" height="2.7" fill="none" stroke="#d82028" stroke-width="1"/>
<rect x="94.25" y="839.05" width="2.7" height="2.7" fill="none" stroke="#d82028" stroke-width="1"/>
<rect x="128.35" y="872.45" width="2.7" height="2.7" fill="none" stroke="#d82028" stroke-width="1"/>
<rect x="161.75" y="868.15" width="2.7" height="2.7" fill="none" stroke="#d82028" stroke-width="1"/>
<path d="M61.1 897.7 L79 851.9 L95.6 848.9 L129.7 873.8 L162.7 884" fill="none" stroke="#2c9e36" stroke-width="1" stroke-dasharray="4.6 2.3"/>
<circle cx="61.1" cy="897.7" r="1.75" fill="none" stroke="#2c9e36" stroke-width="1"/>
<circle cx="79" cy="851.9" r="1.75" fill="none" stroke="#2c9e36" stroke-width="1"/>
<circle cx="95.6" cy="848.9" r="1.75" fill="none" stroke="#2c9e36" stroke-width="1"/>
<circle cx="129.7" cy="873.8" r="1.75" fill="none" stroke="#2c9e36" stroke-width="1"/>
<circle cx="162.7" cy="884" r="1.75" fill="none" stroke="#2c9e36" stroke-width="1"/>
<rect x="186.8" y="782.9" width="121.5" height="119.7" fill="none" stroke="#1c1c1c" stroke-width="1"/>
<line x1="186.8" y1="797.2" x2="308.3" y2="797.2" stroke="#1c1c1c" stroke-width="1" />
<text x="247.05" y="794.35" font-size="10.5" text-anchor="middle" >26</text>
<path d="M192.9 897.7 L211.7 897.7 L229.2 888.3 L262.2 890.8 L286.9 889.8" fill="none" stroke="#000" stroke-width="1" />
<circle cx="192.9" cy="897.7" r="2.4" fill="#000"/>
<circle cx="211.7" cy="897.7" r="2.4" fill="#000"/>
<circle cx="229.2" cy="888.3" r="2.4" fill="#000"/>
<circle cx="262.2" cy="890.8" r="2.4" fill="#000"/>
<circle cx="286.9" cy="889.8" r="2.4" fill="#000"/>
<rect x="318.3" y="782.9" width="122.2" height="119.7" fill="none" stroke="#1c1c1c" stroke-width="1"/>
<line x1="318.3" y1="797.2" x2="440.5" y2="797.2" stroke="#1c1c1c" stroke-width="1" />
<text x="378.9" y="794.35" font-size="10.5" text-anchor="middle" >28</text>
<path d="M324.9 897.7 L344.1 887 L362.2 887 L398 890.2" fill="none" stroke="#000" stroke-width="1" />
<circle cx="324.9" cy="897.7" r="2.4" fill="#000"/>
<circle cx="344.1" cy="887" r="2.4" fill="#000"/>
<circle cx="362.2" cy="887" r="2.4" fill="#000"/>
<circle cx="398" cy="890.2" r="2.4" fill="#000"/>
<path d="M324.9 897.7 L342.6 895.1 L358.6 887.7 L392.7 890.4 L426.1 889.1" fill="none" stroke="#2c9e36" stroke-width="1" stroke-dasharray="4.6 2.3"/>
<circle cx="324.9" cy="897.7" r="1.75" fill="none" stroke="#2c9e36" stroke-width="1"/>
<circle cx="342.6" cy="895.1" r="1.75" fill="none" stroke="#2c9e36" stroke-width="1"/>
<circle cx="358.6" cy="887.7" r="1.75" fill="none" stroke="#2c9e36" stroke-width="1"/>
<circle cx="392.7" cy="890.4" r="1.75" fill="none" stroke="#2c9e36" stroke-width="1"/>
<circle cx="426.1" cy="889.1" r="1.75" fill="none" stroke="#2c9e36" stroke-width="1"/>
<line x1="193.25" y1="519.2" x2="193.25" y2="524.6" stroke="#1c1c1c" stroke-width="1" />
<text x="193.25" y="513" font-size="14" text-anchor="middle" >0</text>
<line x1="249.75" y1="519.2" x2="249.75" y2="524.6" stroke="#1c1c1c" stroke-width="1" />
<text x="250.25" y="513" font-size="14" text-anchor="middle" >200</text>
<line x1="306.25" y1="519.2" x2="306.25" y2="524.6" stroke="#1c1c1c" stroke-width="1" />
<text x="307.25" y="513" font-size="14" text-anchor="middle" >400</text>
<line x1="455.95" y1="519.2" x2="455.95" y2="524.6" stroke="#1c1c1c" stroke-width="1" />
<text x="455.95" y="513" font-size="14" text-anchor="middle" >0</text>
<line x1="512.45" y1="519.2" x2="512.45" y2="524.6" stroke="#1c1c1c" stroke-width="1" />
<text x="512.95" y="513" font-size="14" text-anchor="middle" >200</text>
<line x1="568.95" y1="519.2" x2="568.95" y2="524.6" stroke="#1c1c1c" stroke-width="1" />
<text x="569.95" y="513" font-size="14" text-anchor="middle" >400</text>
<line x1="61.55" y1="902.6" x2="61.55" y2="908" stroke="#1c1c1c" stroke-width="1" />
<text x="61.55" y="922.5" font-size="14" text-anchor="middle" >0</text>
<line x1="118.05" y1="902.6" x2="118.05" y2="908" stroke="#1c1c1c" stroke-width="1" />
<text x="118.05" y="922.5" font-size="14" text-anchor="middle" >200</text>
<line x1="174.55" y1="902.6" x2="174.55" y2="908" stroke="#1c1c1c" stroke-width="1" />
<text x="174.55" y="922.5" font-size="14" text-anchor="middle" >400</text>
<line x1="324.75" y1="902.6" x2="324.75" y2="908" stroke="#1c1c1c" stroke-width="1" />
<text x="324.75" y="922.5" font-size="14" text-anchor="middle" >0</text>
<line x1="381.25" y1="902.6" x2="381.25" y2="908" stroke="#1c1c1c" stroke-width="1" />
<text x="381.25" y="922.5" font-size="14" text-anchor="middle" >200</text>
<line x1="437.75" y1="902.6" x2="437.75" y2="908" stroke="#1c1c1c" stroke-width="1" />
<text x="437.75" y="922.5" font-size="14" text-anchor="middle" >400</text>
<line x1="49.7" y1="638.3" x2="55.1" y2="638.3" stroke="#1c1c1c" stroke-width="1" />
<text x="47.1" y="643.3" font-size="14" text-anchor="end" >0</text>
<line x1="49.7" y1="589.65" x2="55.1" y2="589.65" stroke="#1c1c1c" stroke-width="1" />
<text x="47.1" y="594.65" font-size="14" text-anchor="end" >5</text>
<line x1="49.7" y1="541" x2="55.1" y2="541" stroke="#1c1c1c" stroke-width="1" />
<text x="47.1" y="546" font-size="14" text-anchor="end" >10</text>
<line x1="49.7" y1="896.7" x2="55.1" y2="896.7" stroke="#1c1c1c" stroke-width="1" />
<text x="47.1" y="901.7" font-size="14" text-anchor="end" >0</text>
<line x1="49.7" y1="848.05" x2="55.1" y2="848.05" stroke="#1c1c1c" stroke-width="1" />
<text x="47.1" y="853.05" font-size="14" text-anchor="end" >5</text>
<line x1="49.7" y1="799.4" x2="55.1" y2="799.4" stroke="#1c1c1c" stroke-width="1" />
<text x="47.1" y="804.4" font-size="14" text-anchor="end" >10</text>
<line x1="571.5" y1="767.5" x2="576.9" y2="767.5" stroke="#1c1c1c" stroke-width="1" />
<text x="584.9" y="772.5" font-size="14" text-anchor="start" >0</text>
<line x1="571.5" y1="718.85" x2="576.9" y2="718.85" stroke="#1c1c1c" stroke-width="1" />
<text x="584.9" y="723.85" font-size="14" text-anchor="start" >5</text>
<line x1="571.5" y1="670.2" x2="576.9" y2="670.2" stroke="#1c1c1c" stroke-width="1" />
<text x="584.9" y="675.2" font-size="14" text-anchor="start" >10</text>
<text x="313" y="492" font-size="14" text-anchor="middle" >Swallowed</text>
<text x="313.6" y="943.7" font-size="14" text-anchor="middle" >Time (min)</text>
<text transform="translate(22.9,717.25) rotate(-90)" font-size="13.5" text-anchor="middle">13-<tspan font-style="italic">cis</tspan><tspan dx="0.8"> RA (</tspan><tspan font-style="italic" font-size="12" dx="0.8">μM</tspan><tspan dx="0.4">)</tspan></text>
<rect x="470" y="804" width="100.3" height="74.7" fill="none" stroke="#1c1c1c" stroke-width="1"/>
<text x="564.3" y="821.7" font-size="10" text-anchor="end" >Course</text>
<line x1="474.5" y1="834" x2="513.3" y2="834" stroke="#000" stroke-width="1" />
<circle cx="494.2" cy="834" r="3.6" fill="#000"/>
<text x="554.8" y="839.7" font-size="10" text-anchor="start" >2</text>
<line x1="474.5" y1="851" x2="513.3" y2="851" stroke="#d82028" stroke-width="1" stroke-dasharray="8.5 3.5"/>
<rect x="491.3" y="848.1" width="5.8" height="5.8" fill="none" stroke="#d82028" stroke-width="1"/>
<text x="554.8" y="857.1" font-size="10" text-anchor="start" >4</text>
<line x1="474.5" y1="869.1" x2="513.3" y2="869.1" stroke="#2c9e36" stroke-width="1" stroke-dasharray="4.6 2.3"/>
<circle cx="494.2" cy="869.1" r="3.15" fill="none" stroke="#2c9e36" stroke-width="1"/>
<text x="554.8" y="875.2" font-size="10" text-anchor="start" >6</text>
</svg></body></html>
